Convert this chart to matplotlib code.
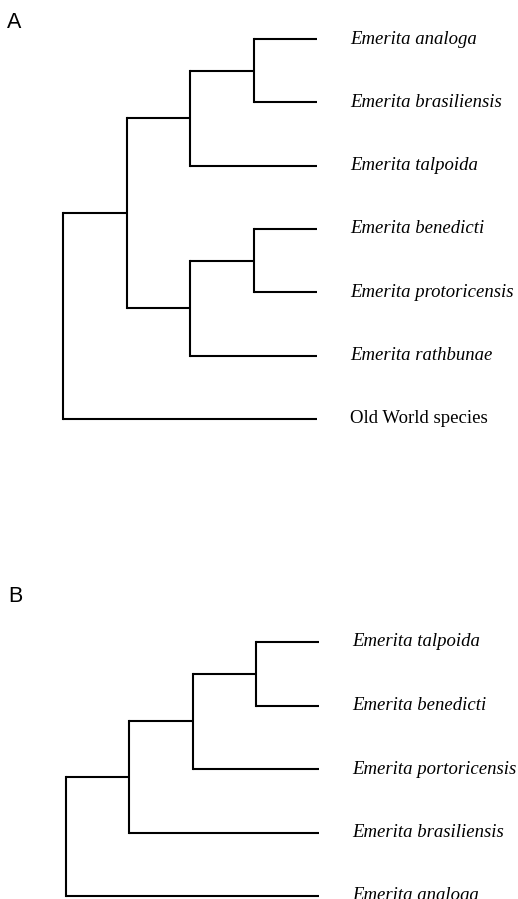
import matplotlib
matplotlib.use("Agg")
import matplotlib.pyplot as plt

# Árbol A: hojas y topología (índices de hojas anidados)
hojas_a = ["Emerita analoga", "Emerita brasiliensis", "Emerita talpoida",
           "Emerita benedicti", "Emerita protoricensis", "Emerita rathbunae",
           "Old World species"]
cursiva_a = [True, True, True, True, True, True, False]
arbol_a = ((((0, 1), 2), ((3, 4), 5)), 6)

# Árbol B
hojas_b = ["Emerita talpoida", "Emerita benedicti", "Emerita portoricensis",
           "Emerita brasiliensis", "Emerita analoga"]
cursiva_b = [True, True, True, True, True]
arbol_b = ((((0, 1), 2), 3), 4)

PUNTA = 4  # profundidad de las puntas (cladograma)
W, H = 518, 899


def dibujar_nodo(ax, nodo, prof):
    # devuelve la coordenada y del nodo y dibuja sus ramas
    if isinstance(nodo, int):
        return nodo
    ys = []
    for hijo in nodo:
        y = dibujar_nodo(ax, hijo, prof + 1)
        x_fin = PUNTA if isinstance(hijo, int) else prof + 1
        ax.plot([prof, x_fin], [y, y], color="black", lw=1.5,
                solid_capstyle="butt")
        ys.append(y)
    ax.plot([prof, prof], [min(ys), max(ys)], color="black", lw=1.5,
            solid_capstyle="projecting")
    return sum(ys) / len(ys)


def panel(pos, arbol, hojas, cursiva, xlim, ylim):
    ax = fig.add_axes(pos)
    dibujar_nodo(ax, arbol, 0)
    for i, (nombre, it) in enumerate(zip(hojas, cursiva)):
        ax.text(PUNTA + 0.52, i, nombre, va="center", ha="left",
                fontsize=13.5, family="Liberation Serif",
                style="italic" if it else "normal")
    ax.set_xlim(*xlim)
    ax.set_ylim(*ylim)
    ax.axis("off")
    return ax


fig = plt.figure(figsize=(W / 100, H / 100), dpi=100)

# Panel A: ocupa los píxeles 0..450 en vertical
panel([0, 1 - 450 / H, 1, 450 / H], arbol_a, hojas_a, cursiva_a,
      (-63 / 63.5, (W - 63) / 63.5), ((450 - 39) / 63.33, -39 / 63.33))

# Panel B: ocupa los píxeles 450..899
panel([0, 0, 1, 449 / H], arbol_b, hojas_b, cursiva_b,
      (-66 / 63.25, (W - 66) / 63.25), ((899 - 642) / 63.5, (450 - 642) / 63.5))

fig.text(7 / W, 1 - 22 / H, "A", fontsize=15.5, family="Liberation Sans",
         va="center", ha="left")
fig.text(8 / W, 1 - 596 / H, "B", fontsize=15.5, family="Liberation Sans",
         va="center", ha="left")

fig.savefig("out.png", dpi=100, facecolor="white")
